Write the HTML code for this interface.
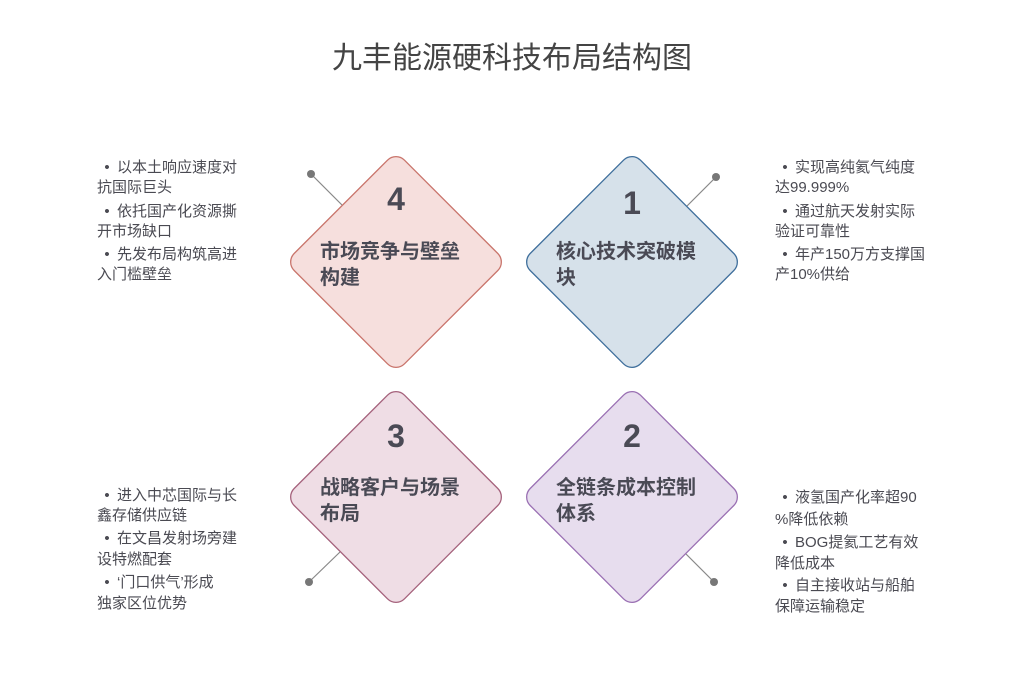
<!DOCTYPE html>
<html><head><meta charset="utf-8"><style>
body{margin:0;width:1024px;height:691px;background:#fff;position:relative;overflow:hidden;font-family:"Liberation Sans","Noto Sans CJK SC",sans-serif;}
.t{position:absolute;white-space:nowrap;font-size:15px;color:#4a4a52;line-height:20px;}
.b{display:inline-block;width:20px;text-align:center;}
</style></head><body>
<svg width="1024" height="691" style="position:absolute;left:0;top:0" font-family="Liberation Sans, Noto Sans CJK SC, sans-serif">
<text x="512" y="68" text-anchor="middle" font-size="30" fill="#444">九丰能源硬科技布局结构图</text>
<g stroke="#888" stroke-width="1.2">
<line x1="311" y1="174" x2="342" y2="205"/><line x1="716" y1="177" x2="686" y2="207"/>
<line x1="309" y1="582" x2="340" y2="552"/><line x1="714" y1="582" x2="685" y2="553"/>
</g>
<g fill="#777"><circle cx="311" cy="174" r="4"/><circle cx="716" cy="177" r="4"/><circle cx="309" cy="582" r="4"/><circle cx="714" cy="582" r="4"/></g>
<g stroke-width="1.3">
<rect x="-78" y="-78" width="156" height="156" rx="12" transform="translate(396,262) rotate(45)" fill="#f6dfdd" stroke="#c9756c"/>
<rect x="-78" y="-78" width="156" height="156" rx="12" transform="translate(632,262) rotate(45)" fill="#d6e1ea" stroke="#3f6f9c"/>
<rect x="-78" y="-78" width="156" height="156" rx="12" transform="translate(396,497) rotate(45)" fill="#efdde5" stroke="#a5627c"/>
<rect x="-78" y="-78" width="156" height="156" rx="12" transform="translate(632,497) rotate(45)" fill="#e7ddee" stroke="#9a70b3"/>
</g>
<g font-size="32" font-weight="bold" fill="#4a4a55" text-anchor="middle">
<text x="396" y="210">4</text><text x="632" y="214">1</text><text x="396" y="447">3</text><text x="632" y="447">2</text>
</g>
<g font-size="20" font-weight="bold" fill="#4a4a55">
<text x="320" y="258">市场竞争与壁垒</text><text x="320" y="284">构建</text>
<text x="556" y="258">核心技术突破模</text><text x="556" y="284">块</text>
<text x="320" y="494">战略客户与场景</text><text x="320" y="520">布局</text>
<text x="556" y="494">全链条成本控制</text><text x="556" y="520">体系</text>
</g>
</svg>
<div class="t" style="left:97px;top:158px"><span class="b">•</span>以本土响应速度对</div>
<div class="t" style="left:97px;top:178px">抗国际巨头</div>
<div class="t" style="left:97px;top:202px"><span class="b">•</span>依托国产化资源撕</div>
<div class="t" style="left:97px;top:222px">开市场缺口</div>
<div class="t" style="left:97px;top:245px"><span class="b">•</span>先发布局构筑高进</div>
<div class="t" style="left:97px;top:265px">入门槛壁垒</div>

<div class="t" style="left:775px;top:158px"><span class="b">•</span>实现高纯氦气纯度</div>
<div class="t" style="left:775px;top:178px">达99.999%</div>
<div class="t" style="left:775px;top:202px"><span class="b">•</span>通过航天发射实际</div>
<div class="t" style="left:775px;top:222px">验证可靠性</div>
<div class="t" style="left:775px;top:245px"><span class="b">•</span>年产150万方支撑国</div>
<div class="t" style="left:775px;top:265px">产10%供给</div>

<div class="t" style="left:97px;top:486px"><span class="b">•</span>进入中芯国际与长</div>
<div class="t" style="left:97px;top:506px">鑫存储供应链</div>
<div class="t" style="left:97px;top:529px"><span class="b">•</span>在文昌发射场旁建</div>
<div class="t" style="left:97px;top:550px">设特燃配套</div>
<div class="t" style="left:97px;top:573px"><span class="b">•</span>‘门口供气’形成</div>
<div class="t" style="left:97px;top:594px">独家区位优势</div>

<div class="t" style="left:775px;top:488px"><span class="b">•</span>液氢国产化率超90</div>
<div class="t" style="left:775px;top:510px">%降低依赖</div>
<div class="t" style="left:775px;top:533px"><span class="b">•</span>BOG提氦工艺有效</div>
<div class="t" style="left:775px;top:554px">降低成本</div>
<div class="t" style="left:775px;top:576px"><span class="b">•</span>自主接收站与船舶</div>
<div class="t" style="left:775px;top:597px">保障运输稳定</div>
</body></html>
